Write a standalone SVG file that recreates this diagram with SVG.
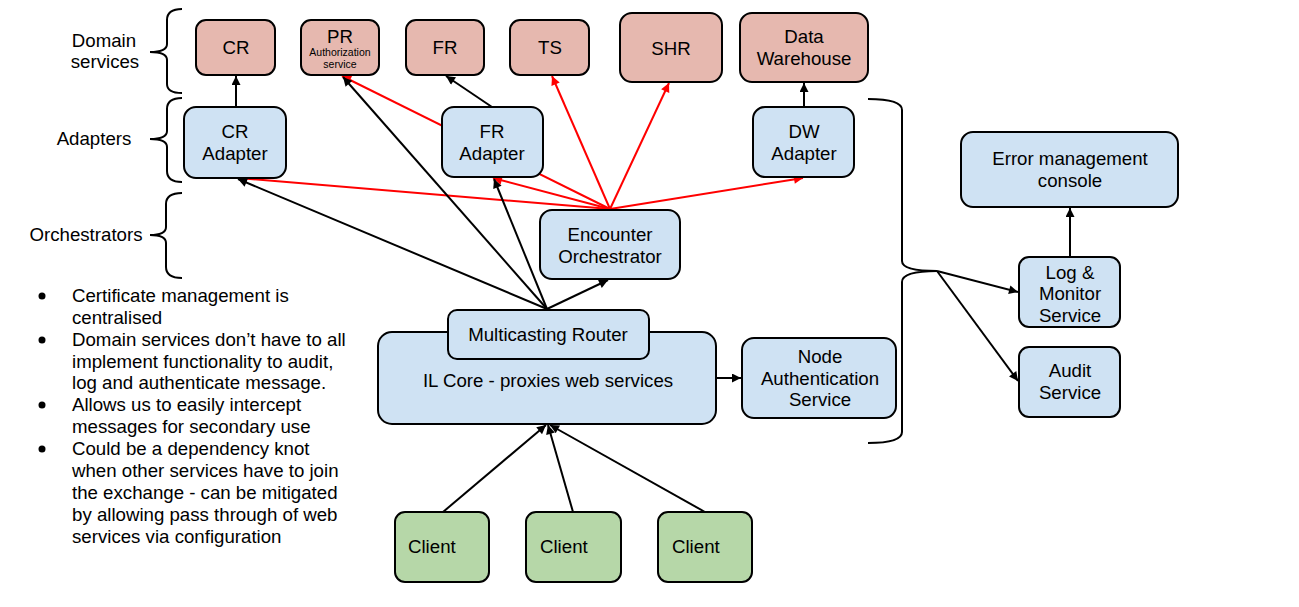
<svg xmlns="http://www.w3.org/2000/svg" width="1299" height="607" viewBox="0 0 1299 607">
<style>
  text { font-family: "Liberation Sans", Arial, sans-serif; font-size: 18.67px; fill: #000; }
  .c { text-anchor: middle; }
  .dom { fill: #e6b8af; stroke: #000; stroke-width: 2; }
  .blue { fill: #cfe2f3; stroke: #000; stroke-width: 2; }
  .green { fill: #b6d7a8; stroke: #000; stroke-width: 2; }
  .blk { stroke: #000; stroke-width: 2; fill: none; marker-end: url(#ab); }
  .red { stroke: #ff0000; stroke-width: 2; fill: none; marker-end: url(#ar); }
  .brace { stroke: #000; stroke-width: 2; fill: none; }
  .small { font-size: 10.5px; }
</style>
<defs>
  <marker id="ab" viewBox="0 0 10 10" refX="10" refY="5" markerWidth="11" markerHeight="9" markerUnits="userSpaceOnUse" orient="auto">
    <path d="M0,0 L10,5 L0,10 z" fill="#000"/>
  </marker>
  <marker id="ar" viewBox="0 0 10 10" refX="10" refY="5" markerWidth="11" markerHeight="9" markerUnits="userSpaceOnUse" orient="auto">
    <path d="M0,0 L10,5 L0,10 z" fill="#ff0000"/>
  </marker>
</defs>
<rect width="1299" height="607" fill="#fff"/>

<g id="labels">
  <text class="c" x="104" y="47">Domain</text>
  <text class="c" x="105" y="68">services</text>
  <text class="c" x="94" y="145">Adapters</text>
  <text class="c" x="86" y="241">Orchestrators</text>
  <path class="brace" d="M182,9 Q167,9 167,20 L167,44 Q167,52 150,52 Q167,52 167,60 L167,84 Q167,93 182,93"/>
  <path class="brace" d="M182,98 Q167,98 167,109 L167,131 Q167,139 150,139 Q167,139 167,147 L167,171 Q167,182 182,182"/>
  <path class="brace" d="M182,193 Q166,193 166,204 L166,227 Q166,235 150,235 Q166,235 166,243 L166,267 Q166,278 182,278"/>
  <path class="brace" d="M868,99 Q902,99 902,110 L902,261 Q902,271 937,271 Q902,271 902,282 L902,432 Q902,443 868,443"/>
</g>

<g id="notes">
  <circle cx="42" cy="296" r="3.5" fill="#000"/>
  <circle cx="42" cy="340" r="3.5" fill="#000"/>
  <circle cx="42" cy="405" r="3.5" fill="#000"/>
  <circle cx="42" cy="449" r="3.5" fill="#000"/>
  <text x="72" y="302">Certificate management is</text>
  <text x="72" y="324">centralised</text>
  <text x="72" y="346">Domain services don’t have to all</text>
  <text x="72" y="368">implement functionality to audit,</text>
  <text x="72" y="389">log and authenticate message.</text>
  <text x="72" y="411">Allows us to easily intercept</text>
  <text x="72" y="433">messages for secondary use</text>
  <text x="72" y="455">Could be a dependency knot</text>
  <text x="72" y="477">when other services have to join</text>
  <text x="72" y="499">the exchange - can be mitigated</text>
  <text x="72" y="521">by allowing pass through of web</text>
  <text x="72" y="543">services via configuration</text>
</g>

<g id="connectors">
  <line class="red" x1="610" y1="209" x2="238" y2="178"/>
  <line class="red" x1="610" y1="209" x2="493" y2="178"/>
  <line class="red" x1="610" y1="209" x2="342" y2="76"/>
  <line class="red" x1="610" y1="209" x2="552" y2="76"/>
  <line class="red" x1="610" y1="209" x2="669" y2="83"/>
  <line class="red" x1="610" y1="209" x2="803" y2="178"/>
  <line class="blk" x1="547" y1="309" x2="238" y2="179"/>
  <line class="blk" x1="547" y1="309" x2="343" y2="77"/>
  <line class="blk" x1="547" y1="309" x2="494" y2="179"/>
  <line class="blk" x1="547" y1="309" x2="608" y2="280"/>
  <line class="blk" x1="236" y1="107" x2="236" y2="76"/>
  <line class="blk" x1="492" y1="107" x2="446" y2="76"/>
  <line class="blk" x1="804" y1="107" x2="804" y2="83"/>
  <line class="blk" x1="716" y1="378" x2="741" y2="378"/>
  <line class="blk" x1="1070" y1="257" x2="1070" y2="208"/>
  <line class="blk" x1="443" y1="512" x2="546" y2="425"/>
  <line class="blk" x1="573" y1="512" x2="548" y2="425"/>
  <line class="blk" x1="705" y1="512" x2="550" y2="425"/>
  <line class="blk" x1="937" y1="271" x2="1018" y2="292"/>
  <line class="blk" x1="937" y1="271" x2="1018" y2="381"/>
</g>

<g id="cr"><rect class="dom" x="196" y="20" width="79" height="55" rx="10"/><text class="c" x="236" y="54">CR</text></g>
<g id="pr"><rect class="dom" x="301" y="20" width="78" height="55" rx="10"/><text class="c" x="340" y="43">PR</text><text class="c small" x="340" y="56">Authorization</text><text class="c small" x="340" y="68">service</text></g>
<g id="fr"><rect class="dom" x="406" y="20" width="78" height="55" rx="10"/><text class="c" x="445" y="54">FR</text></g>
<g id="ts"><rect class="dom" x="510" y="20" width="79" height="55" rx="10"/><text class="c" x="550" y="54">TS</text></g>
<g id="shr"><rect class="dom" x="620" y="13" width="102" height="69" rx="12"/><text class="c" x="671" y="55">SHR</text></g>
<g id="dw"><rect class="dom" x="740" y="13" width="128" height="69" rx="12"/><text class="c" x="804" y="43">Data</text><text class="c" x="804" y="65">Warehouse</text></g>

<g id="cr-adapter"><rect class="blue" x="184" y="107" width="102" height="71" rx="12"/><text class="c" x="235" y="138">CR</text><text class="c" x="235" y="160">Adapter</text></g>
<g id="fr-adapter"><rect class="blue" x="442" y="107" width="101" height="70" rx="12"/><text class="c" x="492" y="138">FR</text><text class="c" x="492" y="160">Adapter</text></g>
<g id="dw-adapter"><rect class="blue" x="753" y="107" width="101" height="70" rx="12"/><text class="c" x="804" y="138">DW</text><text class="c" x="804" y="160">Adapter</text></g>
<g id="encounter"><rect class="blue" x="540" y="210" width="140" height="69" rx="12"/><text class="c" x="610" y="241">Encounter</text><text class="c" x="610" y="263">Orchestrator</text></g>

<g id="il-core"><rect class="blue" x="378" y="332" width="338" height="92" rx="14"/><text class="c" x="548" y="387">IL Core - proxies web services</text></g>
<g id="router"><rect class="blue" x="448" y="310" width="201" height="49" rx="9"/><text class="c" x="548" y="341">Multicasting Router</text></g>
<g id="node-auth"><rect class="blue" x="742" y="338" width="154" height="80" rx="12"/><text class="c" x="820" y="363">Node</text><text class="c" x="820" y="385">Authentication</text><text class="c" x="820" y="406">Service</text></g>

<g id="client1"><rect class="green" x="395" y="512" width="94" height="70" rx="10"/><text x="408" y="553">Client</text></g>
<g id="client2"><rect class="green" x="526" y="512" width="95" height="70" rx="10"/><text x="540" y="553">Client</text></g>
<g id="client3"><rect class="green" x="658" y="512" width="94" height="70" rx="10"/><text x="672" y="553">Client</text></g>

<g id="error-console"><rect class="blue" x="961" y="132" width="217" height="75" rx="12"/><text class="c" x="1070" y="165">Error management</text><text class="c" x="1070" y="187">console</text></g>
<g id="log-monitor"><rect class="blue" x="1019" y="257" width="101" height="70" rx="10"/><text class="c" x="1070" y="279">Log &amp;</text><text class="c" x="1070" y="300">Monitor</text><text class="c" x="1070" y="322">Service</text></g>
<g id="audit"><rect class="blue" x="1019" y="347" width="101" height="70" rx="10"/><text class="c" x="1070" y="377">Audit</text><text class="c" x="1070" y="399">Service</text></g>
</svg>
